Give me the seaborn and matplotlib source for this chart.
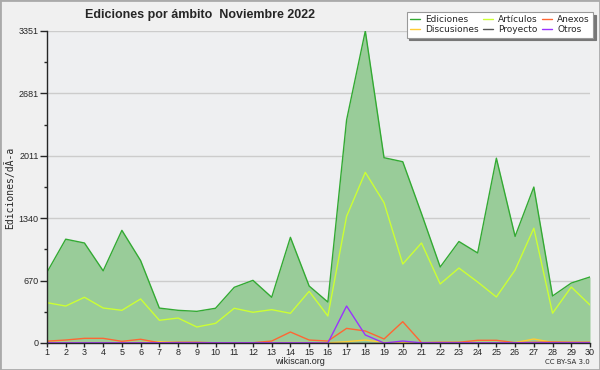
import matplotlib
matplotlib.use("Agg")
import matplotlib.pyplot as plt
import pandas as pd
import seaborn as sns
from matplotlib.patches import Rectangle


days = list(range(1, 31))
ediciones = [760, 1115, 1074, 775, 1210, 885, 375, 351, 340, 373,
             598, 673, 491, 1135, 612, 440, 2395, 3351, 1990, 1947,
             1390, 816, 1090, 967, 1985, 1145, 1675, 505, 644, 709]
articulos = [433, 397, 491, 376, 351, 473, 244, 268, 172, 211,
             373, 330, 358, 319, 555, 290, 1360, 1833, 1507, 848,
             1074, 634, 805, 655, 494, 784, 1233, 320, 601, 408]
anexos = [20, 32, 50, 50, 18, 40, 3, 8, 8, 2,
          2, 3, 21, 118, 32, 21, 157, 129, 43, 229,
          4, 8, 8, 29, 29, 4, 8, 11, 8, 8]
discusiones = [8, 5, 4, 4, 5, 6, 14, 4, 3, 2,
               3, 3, 4, 5, 4, 3, 14, 32, 5, 6,
               3, 4, 5, 6, 5, 4, 43, 6, 5, 5]
proyecto = [1] * 30
otros = [2, 2, 2, 2, 2, 2, 2, 2, 2, 2,
         2, 2, 2, 2, 2, 0, 397, 86, 0, 21,
         2, 2, 2, 2, 2, 2, 2, 2, 2, 2]

y_ticks = [0, 670, 1340, 2011, 2681, 3351]

series = {
    "Ediciones": (ediciones, "#33aa33"),
    "Discusiones": (discusiones, "#ffcc33"),
    "Artículos": (articulos, "#ccff33"),
    "Proyecto": (proyecto, "#555555"),
    "Anexos": (anexos, "#ff6633"),
    "Otros": (otros, "#9933ff"),
}

sns.set_style("ticks")
plt.rcParams["font.family"] = ["DejaVu Sans"]
arial = ["Liberation Sans", "DejaVu Sans"]

fig = plt.figure(figsize=(6, 3.7), dpi=100, facecolor="#f0f0f0")
ax = fig.add_axes([47 / 600, 1 - 343 / 370, 543 / 600, 312 / 370])
ax.set_facecolor("#eeeff1")

ax.fill_between(days, ediciones, color="#99cc99", zorder=1, linewidth=0)
# big series first, small ones drawn on top
draw_order = ["Ediciones", "Artículos", "Discusiones", "Proyecto", "Anexos", "Otros"]
for name in draw_order:
    vals, col = series[name]
    df = pd.DataFrame({"day": days, "value": vals})
    sns.lineplot(data=df, x="day", y="value", color=col, linewidth=1,
                 ax=ax, zorder=3)

ax.set_xlim(1, 30)
ax.set_ylim(0, 3351)
ax.set_xticks(days)
ax.set_xticklabels([str(d) for d in days], family=arial, fontsize=6.5)
ax.set_yticks(y_ticks)
ax.set_yticklabels([str(v) for v in y_ticks], family=arial, fontsize=6.5)
ax.set_yticks([(a + b) / 2 for a, b in zip(y_ticks[:-1], y_ticks[1:])], minor=True)
ax.grid(axis="y", which="major", color="#cccccc", linewidth=1, zorder=0)
ax.set_axisbelow(True)
ax.tick_params(axis="x", which="major", length=3, width=1, pad=0.5)
ax.tick_params(axis="y", which="major", length=5, width=1, pad=1)
ax.tick_params(axis="y", which="minor", length=2.5, width=1)
for side in ["top", "right"]:
    ax.spines[side].set_visible(False)
for side in ["left", "bottom"]:
    ax.spines[side].set_linewidth(1)
    ax.spines[side].set_zorder(4)
ax.set_xlabel("")
ax.set_ylabel("")

handles = [plt.Line2D([], [], color=series[n][1], linewidth=1) for n in series]
leg = ax.legend(handles, list(series.keys()), ncol=3, fontsize=6.5,
                loc="upper right", bbox_to_anchor=(1.0055, 1.061),
                borderaxespad=0, frameon=True, fancybox=False,
                shadow={"color": "#777777", "alpha": 1},
                handlelength=1.1, handletextpad=0.6, columnspacing=0.45,
                labelspacing=0.15, borderpad=0.35)
leg.get_frame().set_edgecolor("#999999")
leg.get_frame().set_linewidth(0.8)
leg.get_frame().set_facecolor("white")
leg.get_frame().set_alpha(1)

fig.text(10 / 600, 1 - 188 / 370, "Ediciones/dÃ-a", family="DejaVu Sans Mono",
         fontsize=7, rotation=90, ha="center", va="center")
fig.text(85 / 600, 1 - 15 / 370, "Ediciones por ámbito  Noviembre 2022",
         family=arial, fontsize=9, fontweight="bold", va="center", ha="left")
fig.text(300 / 600, 1 - 362 / 370, "wikiscan.org", family=arial, fontsize=6.5,
         ha="center", va="center")
fig.text(590 / 600, 1 - 362 / 370, "CC BY-SA 3.0", fontsize=5, ha="right",
         va="center")
fig.patches.append(Rectangle((0, 0), 1, 1, transform=fig.transFigure,
                             fill=False, edgecolor="#aaaaaa", linewidth=2))

fig.savefig("out.png", dpi=100, facecolor=fig.get_facecolor())
